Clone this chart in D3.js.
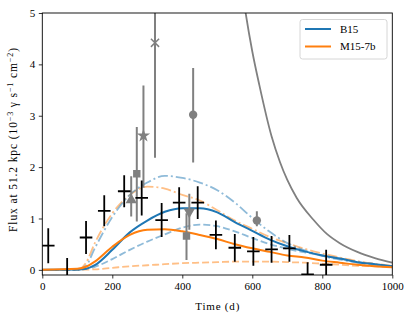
<!DOCTYPE html>
<html>
<head>
<meta charset="utf-8">
<script src="https://cdn.jsdelivr.net/npm/d3@7"></script>
<style>
  body { margin: 0; background: #fff; }
  svg text { font-family: "Liberation Serif", "DejaVu Serif", serif; }
</style>
</head>
<body>
<svg id="chart" width="415" height="322"></svg>
<script>
// black crosses (flux at 51.2 kpc)
const crossT    = [17, 71, 125, 177, 234, 284, 341, 391, 444, 496, 550, 603, 655, 706, 758, 811];
const crossF    = [0.47, -0.12, 0.63, 1.15, 1.53, 1.40, 0.97, 1.31, 1.31, 0.68, 0.43, 0.36, 0.40, 0.42, -0.09, 0.10];
const crossErr  = [0.34, 0.35, 0.32, 0.30, 0.31, 0.34, 0.33, 0.30, 0.32, 0.28, 0.27, 0.28, 0.26, 0.26, 0.24, 0.29];
const crossTErr = [18, 18, 18, 18, 18, 18, 18, 18, 18, 18, 18, 18, 18, 18, 18, 18];

// gray points with markers
const grayT      = [254, 270, 289, 322, 431, 420, 412, 613];
const grayF      = [1.36, 1.87, 2.61, 4.42, 3.02, 1.13, 0.66, 0.96];
const grayLo     = [1.04, 0.94, 1.60, 2.18, 2.09, 0.78, 0.19, 0.85];
const grayHi     = [1.82, 2.78, 3.59, 6.70, 3.93, 1.48, 1.10, 1.14];
const grayMarker = ["triangle", "square", "star", "x", "circle", "triangledown", "square", "circle"];

// model curves
const modelT     = [0, 100, 125, 150, 200, 250, 300, 350, 400, 450, 500, 550, 600, 650, 700, 750, 800, 850, 900, 950, 1000];
const b15        = [0, 0.005, 0.02, 0.09, 0.39, 0.73, 0.96, 1.13, 1.20, 1.20, 1.12, 0.93, 0.76, 0.59, 0.46, 0.36, 0.28, 0.22, 0.15, 0.11, 0.07];
const m15        = [0, 0.02, 0.06, 0.16, 0.45, 0.68, 0.78, 0.79, 0.75, 0.68, 0.60, 0.50, 0.42, 0.35, 0.28, 0.24, 0.18, 0.14, 0.10, 0.07, 0.05];
const b15Dash    = [0, 0, 0.02, 0.06, 0.21, 0.39, 0.55, 0.69, 0.82, 0.88, 0.85, 0.75, 0.62, 0.50, 0.41, 0.34, 0.28, 0.22, 0.16, 0.11, 0.07];
const m15Dash    = [0, 0, 0.005, 0.01, 0.04, 0.07, 0.09, 0.11, 0.13, 0.14, 0.15, 0.16, 0.16, 0.16, 0.15, 0.14, 0.12, 0.10, 0.08, 0.07, 0.05];
const b15DashDot = [0, 0, 0.08, 0.42, 1.03, 1.46, 1.70, 1.83, 1.79, 1.70, 1.55, 1.31, 1.01, 0.74, 0.52, 0.38, 0.27, 0.20, 0.14, 0.10, 0.06];
const m15DashDot = [0, 0, 0.14, 0.52, 1.10, 1.46, 1.62, 1.58, 1.46, 1.35, 1.16, 0.96, 0.80, 0.64, 0.52, 0.41, 0.32, 0.24, 0.17, 0.12, 0.08];

// gray decaying curve
const decayT = [560, 581, 600, 620, 655, 679, 700, 727, 774, 813, 850, 900, 950, 1000];
const decayF = [6.0, 5.0, 4.25, 3.6, 2.6, 2.1, 1.75, 1.4, 0.98, 0.70, 0.52, 0.35, 0.23, 0.14];

const xTicks = [0, 200, 400, 600, 800, 1000];
const yTicks = [0, 1, 2, 3, 4, 5];
const legendNames = ["B15", "M15-7b"];

const blue = "#1f77b4", orange = "#ff7f0e";
const serif = "'Liberation Serif', 'DejaVu Serif', serif";

const svg = d3.select("#chart");
const margin = {top: 13, right: 22.7, bottom: 47, left: 42.3};
const W = 415, H = 322;

const x = d3.scaleLinear().domain([0, 1000]).range([margin.left, W - margin.right]);
const y = d3.scaleLinear().domain([-0.1, 5]).range([H - margin.bottom, margin.top]);

svg.append("clipPath").attr("id", "clip")
  .append("rect")
  .attr("x", x(0)).attr("y", y(5))
  .attr("width", x(1000) - x(0)).attr("height", y(-0.1) - y(5));

const plot = svg.append("g").attr("clip-path", "url(#clip)");

const line = d3.line().x(d => x(d[0])).y(d => y(d[1])).curve(d3.curveMonotoneX);
const zipT = (ts, vs) => ts.map((t, i) => [t, vs[i]]);

// light model curves
const lightCurves = [
  {v: m15Dash, c: orange, dash: "7,3"},
  {v: b15Dash, c: blue, dash: "7,3"},
  {v: m15DashDot, c: orange, dash: "10,3,2,3"},
  {v: b15DashDot, c: blue, dash: "10,3,2,3"}
];
lightCurves.forEach(s => {
  plot.append("path")
    .attr("d", line(zipT(modelT, s.v)))
    .attr("fill", "none")
    .attr("stroke", s.c)
    .attr("stroke-opacity", 0.5)
    .attr("stroke-width", 1.8)
    .attr("stroke-dasharray", s.dash);
});

// main models
plot.append("path").attr("d", line(zipT(modelT, b15)))
  .attr("fill", "none").attr("stroke", blue).attr("stroke-width", 2);
plot.append("path").attr("d", line(zipT(modelT, m15)))
  .attr("fill", "none").attr("stroke", orange).attr("stroke-width", 2);

// gray decay
plot.append("path").attr("d", line(zipT(decayT, decayF)))
  .attr("fill", "none").attr("stroke", "gray").attr("stroke-width", 1.8);

// gray points
const symbolOf = {
  triangle: d3.symbolTriangle, square: d3.symbolSquare, star: d3.symbolStar,
  x: d3.symbolX, circle: d3.symbolCircle, triangledown: d3.symbolTriangle
};
grayT.forEach((t, i) => {
  plot.append("line")
    .attr("x1", x(t)).attr("x2", x(t))
    .attr("y1", y(grayLo[i])).attr("y2", y(grayHi[i]))
    .attr("stroke", "gray").attr("stroke-width", 2);
  const m = grayMarker[i];
  const p = plot.append("path")
    .attr("d", d3.symbol(symbolOf[m], m === "x" ? 45 : 55)())
    .attr("transform", `translate(${x(t)},${y(grayF[i])})` + (m === "triangledown" ? " rotate(180)" : ""));
  if (m === "x") p.attr("fill", "none").attr("stroke", "gray").attr("stroke-width", 1.5);
  else p.attr("fill", "gray");
});

// black crosses
crossT.forEach((t, i) => {
  plot.append("line")
    .attr("x1", x(t)).attr("x2", x(t))
    .attr("y1", y(crossF[i] - crossErr[i])).attr("y2", y(crossF[i] + crossErr[i]))
    .attr("stroke", "black").attr("stroke-width", 1.8);
  plot.append("line")
    .attr("x1", x(t - crossTErr[i])).attr("x2", x(t + crossTErr[i]))
    .attr("y1", y(crossF[i])).attr("y2", y(crossF[i]))
    .attr("stroke", "black").attr("stroke-width", 1.8);
});

// axes
const xAxis = svg.append("g")
  .attr("transform", `translate(0,${y(-0.1)})`)
  .call(d3.axisBottom(x).tickValues(xTicks).tickFormat(d3.format("d")).tickSize(3.5).tickPadding(3.5));
const yAxis = svg.append("g")
  .attr("transform", `translate(${x(0)},0)`)
  .call(d3.axisLeft(y).tickValues(yTicks).tickFormat(d3.format("d")).tickSize(3.5).tickPadding(3.5));
[xAxis, yAxis].forEach(a => {
  a.attr("font-family", serif).attr("font-size", 11);
  a.select(".domain").remove();
  a.selectAll(".tick line").attr("stroke", "black").attr("stroke-width", 0.8);
  a.selectAll(".tick text").attr("fill", "black");
});

svg.append("rect")
  .attr("x", x(0)).attr("y", y(5))
  .attr("width", x(1000) - x(0)).attr("height", y(-0.1) - y(5))
  .attr("fill", "none").attr("stroke", "black").attr("stroke-width", 0.9);

// labels
svg.append("text")
  .attr("x", (x(0) + x(1000)) / 2).attr("y", 310)
  .attr("text-anchor", "middle").attr("font-size", 11).attr("font-family", serif)
  .attr("textLength", 44).attr("lengthAdjust", "spacing")
  .text("Time (d)");

const yl = svg.append("text")
  .attr("transform", `translate(17,${(y(5) + y(-0.1)) / 2 - 4}) rotate(-90)`)
  .attr("text-anchor", "middle").attr("font-size", 11.5).attr("font-family", serif)
  .attr("textLength", 184).attr("lengthAdjust", "spacing");
yl.append("tspan").text("Flux at 51.2 kpc (10");
yl.append("tspan").attr("font-size", 8).attr("dy", -4).text("−3");
yl.append("tspan").attr("dy", 4).text(" γ s");
yl.append("tspan").attr("font-size", 8).attr("dy", -4).text("−1");
yl.append("tspan").attr("dy", 4).text(" cm");
yl.append("tspan").attr("font-size", 8).attr("dy", -4).text("−2");
yl.append("tspan").attr("dy", 4).text(")");

// legend
const lg = svg.append("g");
lg.append("rect")
  .attr("x", 300).attr("y", 19.5).attr("width", 87).attr("height", 39.5)
  .attr("rx", 2.5).attr("fill", "white").attr("fill-opacity", 0.8)
  .attr("stroke", "#cccccc").attr("stroke-width", 0.8);
[blue, orange].forEach((c, i) => {
  const yy = 29 + i * 17.5;
  lg.append("line").attr("x1", 305).attr("x2", 331).attr("y1", yy).attr("y2", yy)
    .attr("stroke", c).attr("stroke-width", 2);
  lg.append("text").attr("x", 340).attr("y", yy + 3.6)
    .attr("font-size", 11).attr("font-family", serif).text(legendNames[i]);
});
</script>
</body>
</html>
